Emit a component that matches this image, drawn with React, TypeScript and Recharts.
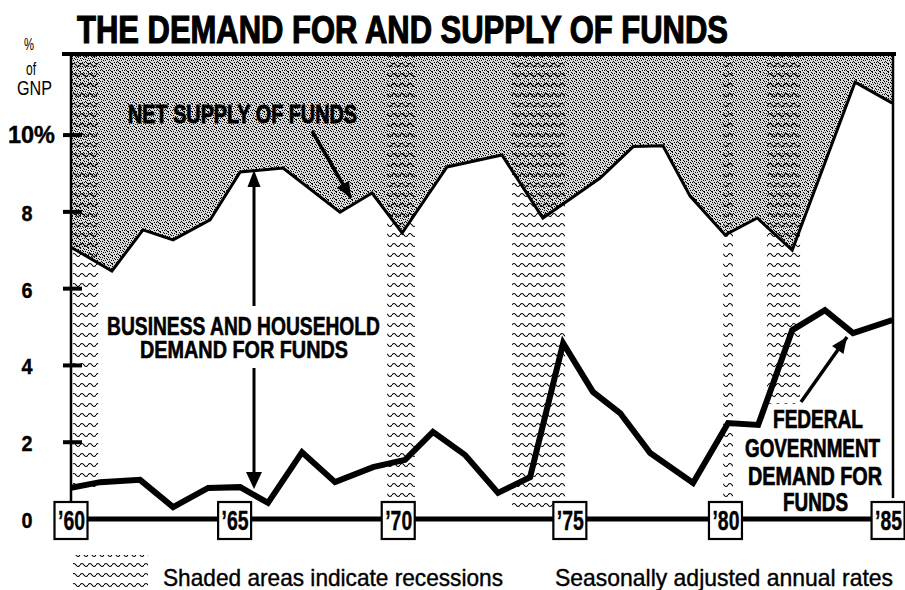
import React from 'react';
import { ComposedChart, Area, Line, XAxis, YAxis, ReferenceArea, CartesianGrid } from 'recharts';

// net supply of funds, % of GNP (upper line, shaded above)
const supplyYears = [1960, 1961.25, 1962.2, 1963.12, 1964.25, 1965.17, 1966.48, 1968.22, 1969.2, 1970.12, 1971.49, 1973.17, 1974.42, 1976.17, 1977.18, 1978.09, 1978.92, 1979.99, 1980.97, 1982.04, 1983.96, 1985.1];
const supplyValues = [7.08, 6.46, 7.53, 7.27, 7.79, 9.04, 9.14, 7.99, 8.49, 7.45, 9.17, 9.48, 7.84, 8.88, 9.7, 9.72, 8.41, 7.4, 7.84, 7.0, 11.38, 10.83];

// federal government demand for funds, % of GNP
const fedYears = [1960, 1960.89, 1962.11, 1963.12, 1964.19, 1965.17, 1966.02, 1967.06, 1968.07, 1969.23, 1970.21, 1971.06, 1972.04, 1973.05, 1974.03, 1975.04, 1975.95, 1976.78, 1977.7, 1979.01, 1980.08, 1981.0, 1982.04, 1983.04, 1983.9, 1985.1];
const fedValues = [0.81, 0.96, 1.02, 0.31, 0.81, 0.83, 0.42, 1.74, 0.96, 1.35, 1.54, 2.27, 1.67, 0.68, 1.09, 4.58, 3.31, 2.76, 1.72, 0.94, 2.5, 2.45, 4.92, 5.44, 4.84, 5.18];

// recessions (shaded bands)
const recessionStart = [1960.06, 1969.66, 1973.48, 1979.93, 1981.27];
const recessionEnd = [1960.83, 1970.51, 1975.1, 1980.23, 1982.28];
const recessionLow = [0.7, 0.45, 0.25, 0.55, 3.0];

const yearTicks = [1960, 1965, 1970, 1975, 1980, 1985];
const valueTicks = [0, 2, 4, 6, 8, 10];

const X_MAX = 1985.12;
const Y_TOP = 12.06;
const AXIS_Y = 519;

const FONT = "'Liberation Sans Narrow', 'Liberation Sans', Arial, sans-serif";

// one table for the chart, gaps bridged with connectNulls
const allYears = Array.from(new Set([...supplyYears, ...fedYears])).sort((a, b) => a - b);
const tableData = allYears.map((year) => {
  const si = supplyYears.indexOf(year);
  const fi = fedYears.indexOf(year);
  return { year, supply: si >= 0 ? supplyValues[si] : null, fed: fi >= 0 ? fedValues[fi] : null };
});

// halftone dots for the net-supply region
const STIPPLE = [
  '10010000',
  '00001010',
  '10100000',
  '00010100',
  '01000001',
  '00000100',
  '00101010',
  '10000001',
];

const Patterns = ({ prefix }: { prefix: string }) => (
  <defs>
    <pattern id={`${prefix}stipple`} width="8" height="8" patternUnits="userSpaceOnUse">
      <rect width="8" height="8" fill="#d9d9d9" />
      {STIPPLE.map((row, r) =>
        row.split('').map((c, k) => (c === '1' ? <rect key={`${r}-${k}`} x={k} y={r} width="1" height="1" fill="#000" /> : null))
      )}
    </pattern>
    <pattern id={`${prefix}waves`} width="8" height="10" patternUnits="userSpaceOnUse">
      <path d="M0 5 q2 -3 4 0 t4 0" fill="none" stroke="#000" strokeWidth="1.2" />
    </pattern>
  </defs>
);

const T = ({ x, y, w, size, children, anchor = 'start', weight = 700, stroke = 0 }: any) => (
  <text
    x={x}
    y={y}
    fontSize={size}
    fontWeight={weight}
    textLength={w}
    lengthAdjust="spacingAndGlyphs"
    textAnchor={anchor}
    fill="#000"
    stroke={stroke ? '#000' : 'none'}
    strokeWidth={stroke}
    fontFamily={FONT}
  >
    {children}
  </text>
);

const head = (x1: number, y1: number, x2: number, y2: number, len: number, half: number) => {
  const a = Math.atan2(y2 - y1, x2 - x1);
  const bx = x2 - len * Math.cos(a);
  const by = y2 - len * Math.sin(a);
  const px = -Math.sin(a) * half;
  const py = Math.cos(a) * half;
  return `${x2},${y2} ${bx + px},${by + py} ${bx - px},${by - py}`;
};

const Arrow = ({ x1, y1, x2, y2, w = 3.5, len = 16, half = 7 }: any) => (
  <g>
    <line x1={x1} y1={y1} x2={x2} y2={y2} stroke="#000" strokeWidth={w} />
    <polygon points={head(x1, y1, x2, y2, len, half)} fill="#000" />
  </g>
);

const XTick = ({ x, payload }: any) => {
  // the '75 box sits a little right of its year in the original
  const cx = x + (payload.value === 1975 ? 8 : payload.value === 1985 ? -1 : 0);
  const label = '\u2019' + String(payload.value).slice(2);
  return (
    <g>
      <rect x={cx - 16.5} y={AXIS_Y - 17} width={33} height={37} fill="#fff" stroke="#000" strokeWidth={2.2} />
      <T x={cx + 0.5} y={AXIS_Y + 11} w={27} size={27} anchor="middle" stroke={0.4}>{label}</T>
    </g>
  );
};

const YTick = ({ y, payload }: any) => {
  const v = payload.value;
  return (
    <g>
      {v === 10 ? (
        <T x={8} y={y + 8} w={47} size={23} stroke={0.4}>10%</T>
      ) : (
        <T x={27} y={y + 9} w={11} size={22} anchor="middle" stroke={0.4}>{String(v)}</T>
      )}
      {v !== 0 && <line x1={63} x2={82} y1={y} y2={y} stroke="#000" strokeWidth={4} />}
    </g>
  );
};

export default function App() {
  return (
    <div style={{ position: 'absolute', left: 0, top: 0, width: 905, height: 590, background: '#fff' }}>
      <ComposedChart width={905} height={590} data={tableData} margin={{ top: 56, right: 12, bottom: 41, left: 0 }}>
        <Patterns prefix="c-" />
        {/* stipple fills the plot; the white area under the supply line leaves it only above */}
        <CartesianGrid horizontal={false} vertical={false} fill="url(#c-stipple)" fillOpacity={1} stroke="none" />
        <Area
          dataKey="supply"
          type="linear"
          connectNulls
          stroke="none"
          fill="#fff"
          fillOpacity={1}
          isAnimationActive={false}
        />
        {recessionStart.map((s, i) => (
          <ReferenceArea
            key={i}
            x1={s}
            x2={recessionEnd[i]}
            y1={recessionLow[i]}
            y2={Y_TOP}
            fill="url(#c-waves)"
            fillOpacity={1}
            stroke="none"
          />
        ))}
        <Line dataKey="supply" type="linear" connectNulls stroke="#000" strokeWidth={3} dot={false} isAnimationActive={false} />
        <Line dataKey="fed" type="linear" connectNulls stroke="#000" strokeWidth={6} dot={false} isAnimationActive={false} />
        <XAxis
          type="number"
          dataKey="year"
          domain={[1960, X_MAX]}
          ticks={yearTicks}
          interval={0}
          height={30}
          axisLine={{ stroke: '#000', strokeWidth: 5 }}
          tickLine={false}
          tick={XTick}
          allowDataOverflow
        />
        <YAxis
          type="number"
          domain={[0, Y_TOP]}
          ticks={valueTicks}
          interval={0}
          width={71}
          axisLine={{ stroke: '#000', strokeWidth: 2.5 }}
          tickLine={false}
          tick={YTick}
          allowDataOverflow
        />
      </ComposedChart>

      <svg width={905} height={590} style={{ position: 'absolute', left: 0, top: 0, pointerEvents: 'none' }}>
        <Patterns prefix="o-" />
        <T x={77} y={43} w={651} size={39} stroke={1.2}>THE DEMAND FOR AND SUPPLY OF FUNDS</T>
        <rect x={62} y={52} width={834} height={4} fill="#000" />
        <line x1={893} y1={56} x2={893} y2={498} stroke="#000" strokeWidth={2.5} />

        <T x={29} y={50} w={10} size={17} anchor="middle" weight={400}>%</T>
        <T x={31} y={75} w={10} size={18} anchor="middle" weight={400}>of</T>
        <T x={34.5} y={95} w={35} size={21} anchor="middle" weight={400}>GNP</T>

        <T x={128} y={123} w={229} size={25} stroke={0.8}>NET SUPPLY OF FUNDS</T>
        <Arrow x1={312} y1={131} x2={351} y2={198} />

        <line x1={254} y1={184} x2={254} y2={306} stroke="#000" strokeWidth={3} />
        <polygon points={head(254, 300, 254, 170, 17, 6.5)} fill="#000" />
        <line x1={254} y1={368} x2={254} y2={475} stroke="#000" strokeWidth={3} />
        <polygon points={head(254, 370, 254, 489, 17, 8)} fill="#000" />
        <T x={107} y={335} w={273} size={26} stroke={0.6}>BUSINESS AND HOUSEHOLD</T>
        <T x={140} y={358} w={208} size={24} stroke={0.6}>DEMAND FOR FUNDS</T>

        <Arrow x1={801} y1={402} x2={847} y2={337} />
        <T x={773} y={428} w={90} size={25} stroke={0.7}>FEDERAL</T>
        <T x={745} y={457} w={135} size={25} stroke={0.7}>GOVERNMENT</T>
        <T x={748} y={485} w={134} size={25} stroke={0.7}>DEMAND FOR</T>
        <T x={783} y={511} w={65} size={25} stroke={0.7}>FUNDS</T>

        <rect x={73} y={555} width={75} height={34} fill="url(#o-waves)" />
        <T x={163} y={586} w={340} size={24} weight={400} stroke={0.4}>Shaded areas indicate recessions</T>
        <T x={555} y={586} w={338} size={24} weight={400} stroke={0.4}>Seasonally adjusted annual rates</T>
      </svg>
    </div>
  );
}
